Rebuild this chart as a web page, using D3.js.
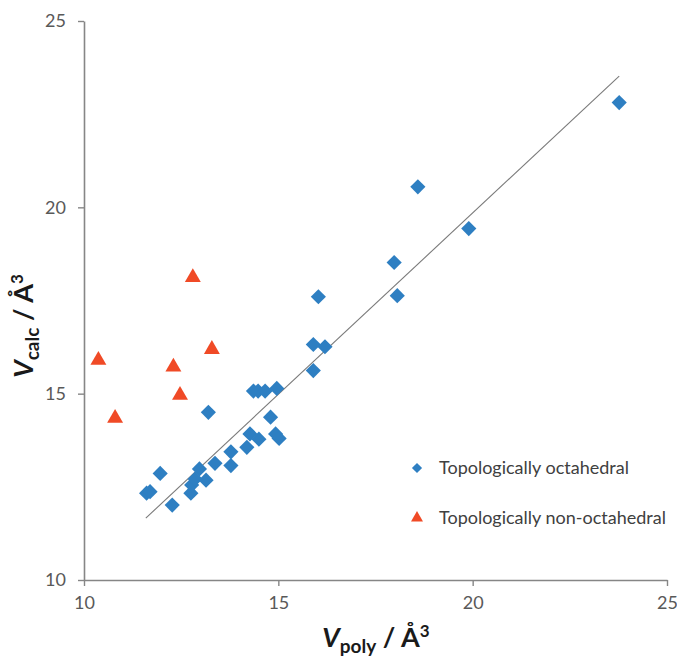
<!DOCTYPE html>
<html>
<head>
<meta charset="utf-8">
<script src="https://cdn.jsdelivr.net/npm/d3@7"></script>
<style>
  html, body { margin: 0; padding: 0; background: #fff; }
  svg { display: block; }
</style>
</head>
<body>
<svg id="chart" width="677" height="660"></svg>
<script>
// Topologically octahedral: V_poly (x) and V_calc (y)
const octX = [11.61, 11.70, 11.96, 12.27, 12.75, 12.77, 12.86, 12.97, 13.14, 13.20, 13.37, 13.78, 13.78, 14.19, 14.27, 14.36, 14.48, 14.66, 14.50, 14.80, 14.96, 14.93, 15.02, 15.90, 15.90, 16.03, 16.20, 17.98, 18.06, 18.59, 19.90, 23.77];
const octY = [12.33, 12.37, 12.86, 12.01, 12.33, 12.55, 12.71, 12.98, 12.68, 14.50, 13.13, 13.07, 13.44, 13.56, 13.92, 15.07, 15.07, 15.07, 13.78, 14.37, 15.14, 13.92, 13.80, 16.32, 15.62, 17.60, 16.26, 18.52, 17.63, 20.55, 19.43, 22.81];
// Topologically non-octahedral
const nonX = [10.37, 10.80, 12.30, 12.47, 13.29, 12.80];
const nonY = [15.90, 14.34, 15.72, 14.96, 16.19, 18.12];
// Fit line endpoints
const fitX = [11.59, 23.77];
const fitY = [11.66, 23.52];
// Axes
const xTicks = [10, 15, 20, 25];
const yTicks = [10, 15, 20, 25];
const seriesNames = ["Topologically octahedral", "Topologically non-octahedral"];
const seriesColors = ["#2e7fc2", "#f04a26"];

const svg = d3.select("#chart");
const mLeft = 84, mRight = 667, mTop = 21, mBottom = 580;
const x = d3.scaleLinear().domain([10, 25]).range([mLeft, mRight]);
const y = d3.scaleLinear().domain([10, 25]).range([mBottom, mTop]);

const axisColor = "#868686";
const textColor = "#595959";
const font = "Lato, 'Open Sans', sans-serif";

// fit line
svg.append("line")
  .attr("x1", x(fitX[0])).attr("y1", y(fitY[0]))
  .attr("x2", x(fitX[1])).attr("y2", y(fitY[1]))
  .attr("stroke", "#7a7a7a").attr("stroke-width", 1.1);

// axes
const xAxis = svg.append("g").attr("transform", `translate(0,${mBottom})`)
  .call(d3.axisBottom(x).tickValues(xTicks).tickSize(6).tickSizeOuter(0).tickPadding(10));
const yAxis = svg.append("g").attr("transform", `translate(${mLeft},0)`)
  .call(d3.axisLeft(y).tickValues(yTicks).tickSize(6).tickSizeOuter(0).tickPadding(12));
[xAxis, yAxis].forEach(g => {
  g.select(".domain").attr("stroke", axisColor).attr("stroke-width", 1.6);
  g.selectAll(".tick line").attr("stroke", axisColor).attr("stroke-width", 1.4);
  g.selectAll(".tick text").attr("fill", textColor)
    .style("font-family", font).style("font-size", "18px");
});

// diamonds (octahedral)
const diamond = d3.symbol().type(d3.symbolSquare).size(115);
svg.append("g").selectAll("path").data(octX.map((v, i) => [v, octY[i]])).join("path")
  .attr("d", diamond)
  .attr("transform", d => `translate(${x(d[0])},${y(d[1])}) rotate(45)`)
  .attr("fill", seriesColors[0]);

// triangles (non-octahedral)
const tri = d3.symbol().type(d3.symbolTriangle).size(110);
svg.append("g").selectAll("path").data(nonX.map((v, i) => [v, nonY[i]])).join("path")
  .attr("d", tri)
  .attr("transform", d => `translate(${x(d[0])},${y(d[1])})`)
  .attr("fill", seriesColors[1]);

// legend
const lg = svg.append("g");
const legY = [468, 518];
lg.append("path").attr("d", d3.symbol().type(d3.symbolSquare).size(52))
  .attr("transform", `translate(417,${legY[0]}) rotate(45)`).attr("fill", seriesColors[0]);
lg.append("path").attr("d", d3.symbol().type(d3.symbolTriangle).size(62))
  .attr("transform", `translate(417,${legY[1]})`).attr("fill", seriesColors[1]);
seriesNames.forEach((n, i) => {
  lg.append("text").attr("x", 439).attr("y", legY[i]).attr("dy", "0.35em")
    .attr("fill", "#404040").style("font-family", font).style("font-size", "18px")
    .text(n);
});

// axis titles
const xt = svg.append("text").attr("x", 376).attr("y", 647).attr("text-anchor", "middle")
  .attr("fill", "#1a1a1a").style("font-family", font).style("font-size", "27px").style("font-weight", "bold");
xt.append("tspan").style("font-style", "italic").text("V");
xt.append("tspan").attr("dy", 6).style("font-size", "19px").text("poly");
xt.append("tspan").attr("dy", -6).text(" / Å");
xt.append("tspan").attr("dy", -10).style("font-size", "17px").text("3");

const yt = svg.append("text").attr("transform", "translate(33,326) rotate(-90)").attr("text-anchor", "middle")
  .attr("fill", "#1a1a1a").style("font-family", font).style("font-size", "27px").style("font-weight", "bold");
yt.append("tspan").style("font-style", "italic").text("V");
yt.append("tspan").attr("dy", 6).style("font-size", "19px").text("calc");
yt.append("tspan").attr("dy", -6).text(" / Å");
yt.append("tspan").attr("dy", -10).style("font-size", "17px").text("3");
</script>
</body>
</html>
